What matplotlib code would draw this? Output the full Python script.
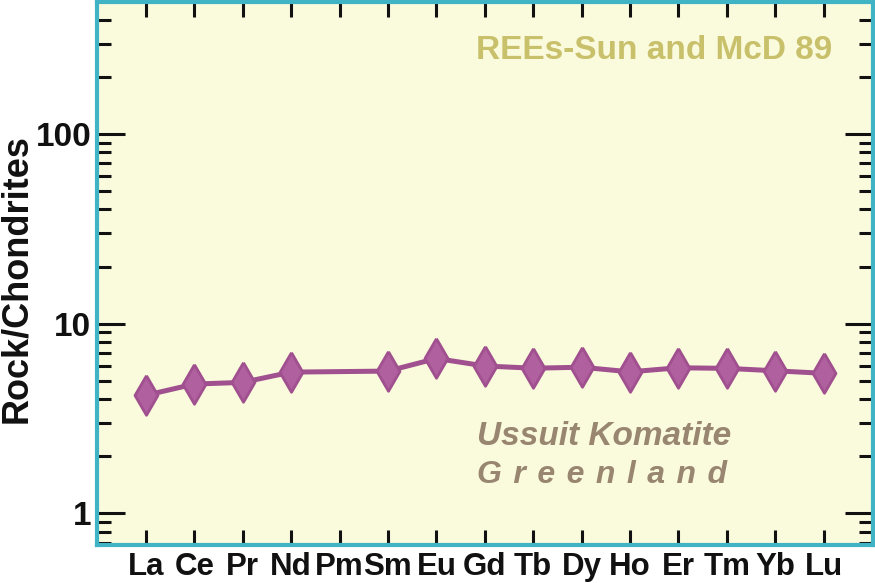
import numpy as np
import matplotlib
matplotlib.use("Agg")
import matplotlib.pyplot as plt
from matplotlib.ticker import LogLocator, NullFormatter, FixedLocator, FixedFormatter

elements = ["La", "Ce", "Pr", "Nd", "Pm", "Sm", "Eu", "Gd", "Tb", "Dy", "Ho", "Er", "Tm", "Yb", "Lu"]
values = [4.19, 4.80, 4.90, 5.55, None, 5.62, 6.55, 5.98, 5.82, 5.89, 5.57, 5.85, 5.81, 5.64, 5.47]
y_ticks = [1, 10, 100]
y_tick_labels = ["1", "10", "100"]

plt.rcParams['font.family'] = ['Liberation Sans', 'DejaVu Sans']
plt.rcParams['font.weight'] = 'bold'

fig = plt.figure(figsize=(8.75, 5.83), dpi=100)
ax = fig.add_axes([97/875, 38/583, 776/875, 543/583])
ax.set_facecolor('#fafadc')

xs = [i for i, v in enumerate(values) if v is not None]
ys = [v for v in values if v is not None]

diamond = [(0, 1), (0.58, 0), (0, -1), (-0.58, 0), (0, 1)]
ax.plot(xs, ys, color='#a0508f', lw=3.6, marker=diamond, markersize=28.5,
        markerfacecolor='#b0609e', markeredgecolor='#a0508f', markeredgewidth=2.0, zorder=3)

ax.set_yscale('log')
ax.set_ylim(0.68, 497)
ax.set_xlim(-1.01, 15.02)

ax.yaxis.set_major_locator(FixedLocator(y_ticks))
ax.yaxis.set_major_formatter(FixedFormatter(y_tick_labels))
ax.yaxis.set_minor_locator(LogLocator(base=10, subs=np.arange(2, 10)))
ax.yaxis.set_minor_formatter(NullFormatter())
ax.set_xticks(range(len(elements)))
ax.set_xticklabels(elements)

ax.tick_params(axis='y', which='major', direction='in', length=20, width=2.2, color='#111111',
               left=True, right=True, labelsize=24, pad=4)
ax.tick_params(axis='y', which='minor', direction='in', length=10, width=2.2, color='#111111',
               left=True, right=True)
ax.tick_params(axis='x', which='major', direction='in', length=11, width=2.2, color='#111111',
               bottom=True, top=True, labelsize=22.5, pad=5)
ax.tick_params(axis='x', which='minor', bottom=False, top=False)
for lab in ax.get_xticklabels() + ax.get_yticklabels():
    lab.set_fontweight('bold')
    lab.set_color('#111111')

for sp in ax.spines.values():
    sp.set_color('#40b4c4')
    sp.set_linewidth(3)

ax.set_ylabel("Rock/Chondrites", fontsize=26, fontweight='bold', color='#111111')
ax.yaxis.set_label_coords(-0.081, 0.49)

ax.text(0.947, 0.895, "REEs-Sun and McD 89", transform=ax.transAxes, ha='right', va='baseline',
        fontsize=24, fontweight='bold', color='#c8c06a')
ax.text(0.490, 0.184, "Ussuit Komatite", transform=ax.transAxes, ha='left', va='baseline',
        fontsize=24, fontweight='bold', fontstyle='italic', color='#988670')
sp_ = " \u200a"
ax.text(0.490, 0.114, sp_.join("Greenland"), transform=ax.transAxes, ha='left', va='baseline',
        fontsize=23, fontweight='bold', fontstyle='italic', color='#988670')

fig.savefig("out.png", dpi=100, facecolor='white')
